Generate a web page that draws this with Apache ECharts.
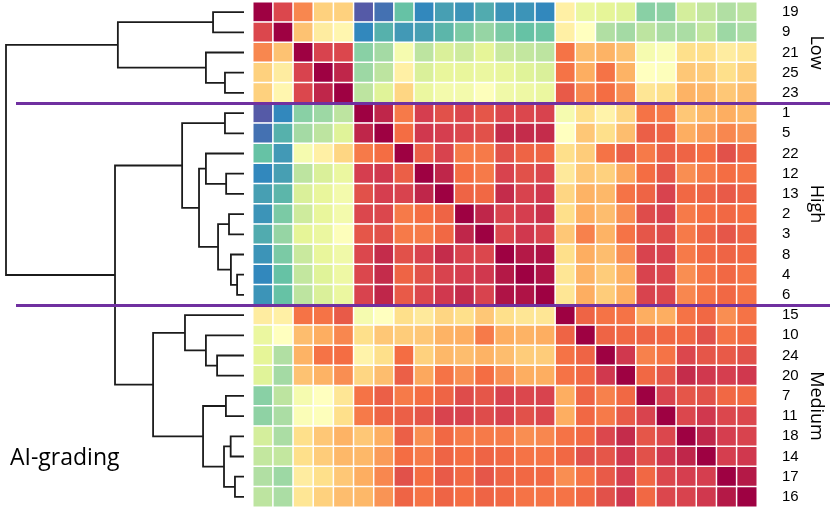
<!DOCTYPE html>
<html>
<head>
<meta charset="utf-8">
<script src="https://cdn.jsdelivr.net/npm/echarts@6/dist/echarts.min.js"></script>
<style>
html, body { margin: 0; padding: 0; background: #fff; }
#main { width: 830px; height: 509px; }
</style>
</head>
<body>
<div id="main"></div>
<script>
// sample order (rows and columns are the same)
var samples = ['19', '9', '21', '25', '23', '1', '5', '22', '12', '13', '2', '3', '8', '4', '6',
	'15', '10', '24', '20', '7', '11', '18', '14', '17', '16'];

var groupNames = ['Low', 'High', 'Medium'];
var groupFirst = [0, 5, 15];
var groupLast = [4, 14, 24];

// similarity matrix, one row per sample
var cellValues = [
	[1.00, 0.88, 0.76, 0.63, 0.63, 0.02, 0.06, 0.20, 0.10, 0.14, 0.12, 0.16, 0.12, 0.12, 0.10, 0.55, 0.42, 0.40, 0.39, 0.25, 0.26, 0.37, 0.34, 0.31, 0.33],
	[0.88, 1.00, 0.66, 0.56, 0.53, 0.10, 0.17, 0.13, 0.14, 0.18, 0.23, 0.27, 0.23, 0.20, 0.21, 0.55, 0.50, 0.31, 0.29, 0.33, 0.30, 0.30, 0.34, 0.28, 0.30],
	[0.76, 0.66, 1.00, 0.89, 0.88, 0.25, 0.29, 0.46, 0.33, 0.38, 0.36, 0.40, 0.35, 0.34, 0.33, 0.79, 0.67, 0.69, 0.66, 0.46, 0.48, 0.60, 0.60, 0.56, 0.58],
	[0.63, 0.56, 0.89, 1.00, 0.94, 0.28, 0.33, 0.55, 0.38, 0.41, 0.41, 0.42, 0.41, 0.39, 0.38, 0.79, 0.70, 0.79, 0.69, 0.50, 0.49, 0.65, 0.64, 0.60, 0.63],
	[0.63, 0.53, 0.88, 0.94, 1.00, 0.33, 0.39, 0.62, 0.42, 0.45, 0.45, 0.49, 0.44, 0.43, 0.42, 0.84, 0.76, 0.80, 0.75, 0.58, 0.60, 0.69, 0.68, 0.65, 0.67],
	[0.02, 0.10, 0.25, 0.28, 0.33, 1.00, 0.94, 0.78, 0.90, 0.86, 0.88, 0.85, 0.88, 0.88, 0.89, 0.46, 0.60, 0.54, 0.62, 0.79, 0.78, 0.65, 0.68, 0.70, 0.68],
	[0.06, 0.17, 0.29, 0.33, 0.39, 0.94, 1.00, 0.80, 0.91, 0.90, 0.88, 0.86, 0.93, 0.93, 0.93, 0.50, 0.65, 0.60, 0.67, 0.83, 0.82, 0.70, 0.73, 0.76, 0.74],
	[0.20, 0.13, 0.46, 0.55, 0.62, 0.78, 0.80, 1.00, 0.83, 0.89, 0.78, 0.78, 0.86, 0.82, 0.82, 0.60, 0.64, 0.79, 0.83, 0.78, 0.83, 0.82, 0.80, 0.86, 0.82],
	[0.10, 0.14, 0.33, 0.38, 0.42, 0.90, 0.91, 0.83, 1.00, 0.94, 0.80, 0.78, 0.89, 0.86, 0.88, 0.57, 0.65, 0.63, 0.71, 0.80, 0.85, 0.75, 0.78, 0.80, 0.79],
	[0.14, 0.18, 0.38, 0.41, 0.45, 0.86, 0.90, 0.89, 0.94, 1.00, 0.82, 0.81, 0.93, 0.89, 0.91, 0.62, 0.69, 0.68, 0.79, 0.82, 0.89, 0.81, 0.82, 0.84, 0.82],
	[0.12, 0.23, 0.36, 0.41, 0.45, 0.88, 0.88, 0.78, 0.80, 0.82, 1.00, 0.94, 0.89, 0.90, 0.92, 0.60, 0.70, 0.67, 0.75, 0.87, 0.89, 0.78, 0.80, 0.81, 0.80],
	[0.16, 0.27, 0.40, 0.42, 0.49, 0.85, 0.86, 0.78, 0.78, 0.81, 0.94, 1.00, 0.88, 0.91, 0.89, 0.65, 0.77, 0.69, 0.79, 0.85, 0.87, 0.78, 0.82, 0.85, 0.82],
	[0.12, 0.23, 0.35, 0.41, 0.44, 0.88, 0.93, 0.86, 0.89, 0.93, 0.89, 0.88, 1.00, 0.96, 0.97, 0.60, 0.70, 0.67, 0.75, 0.89, 0.89, 0.78, 0.81, 0.82, 0.81],
	[0.10, 0.20, 0.34, 0.39, 0.43, 0.88, 0.93, 0.82, 0.86, 0.89, 0.90, 0.91, 0.96, 1.00, 0.97, 0.58, 0.69, 0.64, 0.70, 0.89, 0.88, 0.75, 0.79, 0.81, 0.79],
	[0.12, 0.20, 0.33, 0.38, 0.42, 0.89, 0.94, 0.84, 0.88, 0.91, 0.93, 0.89, 0.97, 0.97, 1.00, 0.58, 0.70, 0.64, 0.70, 0.89, 0.88, 0.76, 0.79, 0.81, 0.79],
	[0.56, 0.55, 0.79, 0.79, 0.84, 0.46, 0.50, 0.60, 0.57, 0.62, 0.60, 0.65, 0.60, 0.58, 0.58, 1.00, 0.82, 0.79, 0.79, 0.70, 0.70, 0.79, 0.81, 0.75, 0.79],
	[0.42, 0.50, 0.67, 0.70, 0.76, 0.60, 0.65, 0.64, 0.65, 0.69, 0.70, 0.78, 0.70, 0.69, 0.70, 0.82, 1.00, 0.82, 0.81, 0.82, 0.81, 0.81, 0.86, 0.79, 0.81],
	[0.40, 0.31, 0.69, 0.79, 0.80, 0.54, 0.60, 0.80, 0.63, 0.68, 0.67, 0.69, 0.67, 0.64, 0.64, 0.79, 0.82, 1.00, 0.91, 0.77, 0.79, 0.88, 0.85, 0.84, 0.86],
	[0.39, 0.29, 0.66, 0.69, 0.75, 0.62, 0.67, 0.83, 0.71, 0.79, 0.75, 0.80, 0.75, 0.70, 0.70, 0.79, 0.81, 0.91, 1.00, 0.81, 0.85, 0.93, 0.91, 0.90, 0.91],
	[0.25, 0.33, 0.46, 0.50, 0.58, 0.79, 0.83, 0.78, 0.80, 0.82, 0.87, 0.85, 0.89, 0.88, 0.89, 0.70, 0.82, 0.77, 0.81, 1.00, 0.89, 0.85, 0.86, 0.81, 0.81],
	[0.26, 0.30, 0.48, 0.49, 0.60, 0.78, 0.82, 0.83, 0.85, 0.89, 0.89, 0.87, 0.89, 0.86, 0.88, 0.70, 0.81, 0.78, 0.84, 0.89, 1.00, 0.88, 0.91, 0.88, 0.88],
	[0.37, 0.30, 0.60, 0.65, 0.69, 0.65, 0.70, 0.83, 0.75, 0.81, 0.78, 0.78, 0.78, 0.75, 0.76, 0.79, 0.81, 0.88, 0.93, 0.85, 0.88, 1.00, 0.94, 0.90, 0.89],
	[0.34, 0.34, 0.60, 0.64, 0.68, 0.68, 0.73, 0.80, 0.78, 0.82, 0.80, 0.82, 0.81, 0.79, 0.79, 0.81, 0.86, 0.85, 0.91, 0.86, 0.91, 0.94, 1.00, 0.90, 0.91],
	[0.31, 0.28, 0.56, 0.60, 0.65, 0.70, 0.76, 0.86, 0.80, 0.84, 0.81, 0.85, 0.82, 0.81, 0.81, 0.75, 0.79, 0.84, 0.90, 0.81, 0.88, 0.90, 0.90, 1.00, 0.96],
	[0.33, 0.30, 0.58, 0.63, 0.67, 0.68, 0.74, 0.82, 0.79, 0.82, 0.80, 0.82, 0.81, 0.79, 0.79, 0.79, 0.81, 0.86, 0.91, 0.81, 0.88, 0.89, 0.91, 0.96, 1.00]
];

// dendrogram merges: leaves are 0..24, merge k creates node 25+k
var mergeA = [0, 3, 2, 25, 5, 8, 7, 10, 13, 12, 32, 31, 29, 17, 16, 15, 19, 21, 23, 42, 41, 40, 37, 28];
var mergeB = [1, 4, 26, 27, 6, 9, 30, 11, 14, 33, 34, 35, 36, 18, 38, 39, 20, 22, 24, 43, 44, 45, 46, 47];
var mergeHeight = [0.13, 0.08, 0.16, 0.53, 0.08, 0.075, 0.16, 0.063, 0.029, 0.055, 0.109, 0.189, 0.26,
	0.113, 0.16, 0.248, 0.076, 0.056, 0.038, 0.084, 0.172, 0.382, 0.542, 1.0];

var spectral = ['#5e4fa2', '#3288bd', '#66c2a5', '#abdda4', '#e6f598', '#ffffbf',
	'#fee08b', '#fdae61', '#f46d43', '#d53e4f', '#9e0142'];

var heatData = [];
for (var r = 0; r < cellValues.length; r++) {
	for (var c = 0; c < cellValues[r].length; c++) {
		heatData.push([c, r, cellValues[r][c]]);
	}
}

// tree branches
var nodeY = [], nodeH = [];
for (var i = 0; i < samples.length; i++) {
	nodeY[i] = i;
	nodeH[i] = 0;
}
var treeLines = [];
for (var k = 0; k < mergeA.length; k++) {
	var a = mergeA[k], b = mergeB[k], h = mergeHeight[k];
	var id = samples.length + k;
	nodeY[id] = (nodeY[a] + nodeY[b]) / 2;
	nodeH[id] = h;
	treeLines.push({
		coords: [[nodeH[a], nodeY[a]], [h, nodeY[a]], [h, nodeY[b]], [nodeH[b], nodeY[b]]]
	});
}

// purple separators between groups
var sepLines = [];
for (var g = 1; g < groupFirst.length; g++) {
	var y = groupFirst[g] - 0.5;
	sepLines.push({ coords: [[0, y], [1, y]] });
}
var groupData = [];
for (var g2 = 0; g2 < groupNames.length; g2++) {
	groupData.push([1, (groupFirst[g2] + groupLast[g2]) / 2]);
}

var chart = echarts.init(document.getElementById('main'));
var option = {
	backgroundColor: '#fff',
	animation: false,
	grid: [
		{ left: 253, top: 2, width: 504, height: 505 },
		{ left: 6, top: 2, width: 238, height: 505 },
		{ left: 16, top: 2, width: 814, height: 505 }
	],
	xAxis: [
		{ type: 'category', gridIndex: 0, data: samples, show: false },
		{ type: 'value', gridIndex: 1, min: 0, max: 1, inverse: true, show: false },
		{ type: 'value', gridIndex: 2, min: 0, max: 1, show: false }
	],
	yAxis: [
		{
			type: 'category', gridIndex: 0, data: samples, inverse: true, position: 'right',
			axisLine: { show: false },
			axisTick: { show: false },
			splitLine: { show: false },
			axisLabel: { margin: 25, fontSize: 15, color: '#000', fontFamily: 'Liberation Sans' }
		},
		{ type: 'value', gridIndex: 1, min: -0.5, max: 24.5, inverse: true, show: false },
		{ type: 'value', gridIndex: 2, min: -0.5, max: 24.5, inverse: true, show: false }
	],
	visualMap: {
		show: false,
		seriesIndex: 0,
		dimension: 2,
		min: 0,
		max: 1,
		inRange: { color: spectral }
	},
	graphic: [{
		type: 'text',
		left: 10,
		top: 447,
		style: { text: 'AI-grading', fontSize: 23, fontFamily: 'Open Sans', fill: '#000' }
	}],
	series: [{
		type: 'heatmap',
		xAxisIndex: 0,
		yAxisIndex: 0,
		data: heatData,
		itemStyle: { borderColor: '#fff', borderWidth: 1.5 },
		emphasis: { disabled: true }
	}, {
		type: 'lines',
		coordinateSystem: 'cartesian2d',
		xAxisIndex: 1,
		yAxisIndex: 1,
		polyline: true,
		silent: true,
		lineStyle: { color: '#1b1b1b', width: 1.8, opacity: 1 },
		data: treeLines
	}, {
		type: 'lines',
		coordinateSystem: 'cartesian2d',
		xAxisIndex: 2,
		yAxisIndex: 2,
		silent: true,
		z: 10,
		lineStyle: { color: '#7030a0', width: 3, opacity: 1 },
		data: sepLines
	}, {
		type: 'custom',
		xAxisIndex: 2,
		yAxisIndex: 2,
		silent: true,
		data: groupData,
		renderItem: function (params, api) {
			var p = api.coord([api.value(0), api.value(1)]);
			return {
				type: 'text',
				x: 816,
				y: p[1],
				rotation: -Math.PI / 2,
				style: {
					text: groupNames[params.dataIndex],
					fontSize: 18,
					fontFamily: 'Open Sans',
					fill: '#000',
					align: 'center',
					verticalAlign: 'middle'
				}
			};
		}
	}]
};
chart.setOption(option);
</script>
</body>
</html>
